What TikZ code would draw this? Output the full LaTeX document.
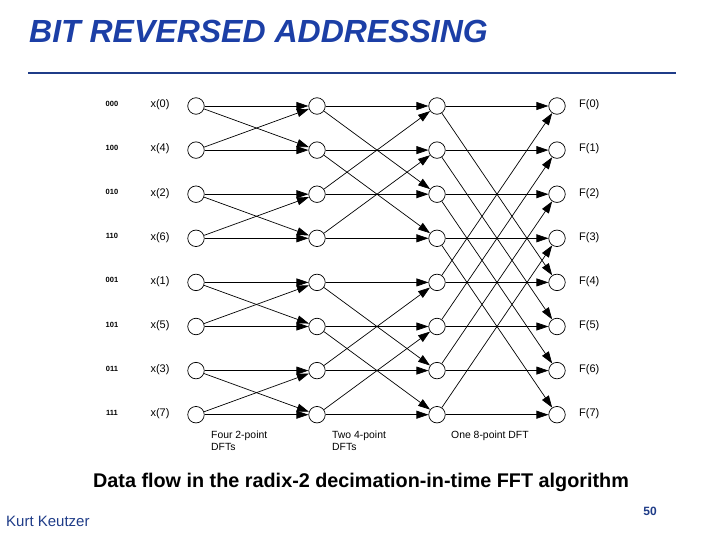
\documentclass[tikz,border=0pt]{standalone}
\usepackage{fontspec}
\setmainfont{Liberation Sans}
\usetikzlibrary{arrows.meta,positioning}
\definecolor{titleBlue}{HTML}{1C3FA6}
\definecolor{ruleBlue}{HTML}{1F3C88}

\begin{document}
\begin{tikzpicture}[x=1pt, y=-1pt,
		bfly/.style={circle, draw, line width=0.7pt, minimum size=16.5pt, inner sep=0pt},
		flow/.style={-{Triangle[length=12pt, width=8pt]}, line width=0.7pt},
		bits/.style={inner sep=0pt, font=\bfseries\fontsize{7.5}{8}\selectfont},
		sig/.style={inner sep=0pt, font=\fontsize{11}{13}\selectfont},
		stage/.style={inner sep=0pt, anchor=north west, align=left, font=\fontsize{10.4}{11.5}\selectfont}
	]
	\useasboundingbox (0,0) rectangle (720,540);

	% title and rule
	\node[anchor=west, inner sep=0pt, text=titleBlue,
		font=\bfseries\itshape\fontsize{32}{35}\selectfont] (title) at (29,31) {BIT REVERSED ADDRESSING};
	\draw[ruleBlue, line width=2pt] (28,73) -- (676,73);

	% butterfly nodes, four columns of eight
	\foreach \c/\cx in {0/196, 1/317, 2/437, 3/557}
		\foreach \r in {0,...,7}
			\node[bfly] (n\c\r) at (\cx, {106+44.1*\r}) {};

	% inputs in bit reversed order, outputs in natural order
	\foreach \r/\b/\i in {0/000/0, 1/100/4, 2/010/2, 3/110/6, 4/001/1, 5/101/5, 6/011/3, 7/111/7} {
		\node[bits] (bit\r) at (112, {104+44.1*\r}) {\b};
		\node[sig] (x\r) at (160, {105+44.1*\r}) {x(\i)};
		\node[sig, anchor=west] (F\r) at (579, {105+44.1*\r}) {F(\r)};
	}

	% stage 1: four 2-point DFTs
	\foreach \r/\p in {0/1, 1/0, 2/3, 3/2, 4/5, 5/4, 6/7, 7/6} {
		\draw[flow] (n0\r) -- (n1\r);
		\draw[flow] (n0\r) -- (n1\p);
	}
	% stage 2: two 4-point DFTs
	\foreach \r/\p in {0/2, 1/3, 2/0, 3/1, 4/6, 5/7, 6/4, 7/5} {
		\draw[flow] (n1\r) -- (n2\r);
		\draw[flow] (n1\r) -- (n2\p);
	}
	% stage 3: one 8-point DFT
	\foreach \r/\p in {0/4, 1/5, 2/6, 3/7, 4/0, 5/1, 6/2, 7/3} {
		\draw[flow] (n2\r) -- (n3\r);
		\draw[flow] (n2\r) -- (n3\p);
	}

	\node[stage] (lbl1) at (211,431) {Four 2-point\\DFTs};
	\node[stage] (lbl2) at (332,431) {Two 4-point\\DFTs};
	\node[stage] (lbl3) at (451,431) {One 8-point DFT};

	% caption and footer
	\node[inner sep=0pt, font=\bfseries\fontsize{19.8}{22}\selectfont] (caption) at (361,482)
		{Data flow in the radix-2 decimation-in-time FFT algorithm};
	\node[anchor=west, inner sep=0pt, text=ruleBlue, font=\fontsize{15}{17}\selectfont] (author) at (6,521) {Kurt Keutzer};
	\node[inner sep=0pt, text=ruleBlue, font=\bfseries\fontsize{12}{14}\selectfont] (page) at (650,511) {50};
\end{tikzpicture}
\end{document}
